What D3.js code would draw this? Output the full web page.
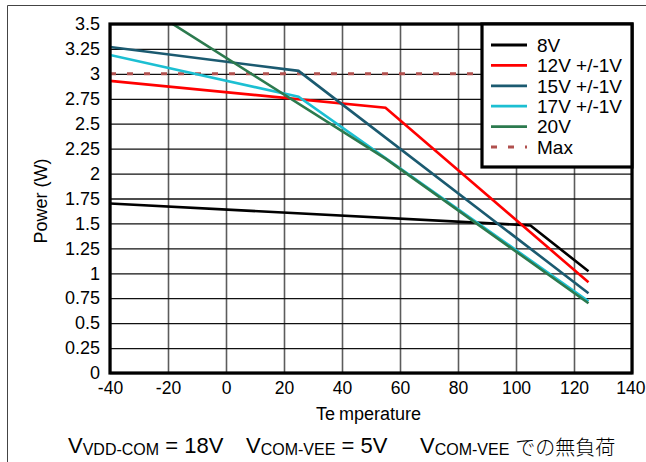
<!DOCTYPE html>
<html>
<head>
<meta charset="utf-8">
<script src="https://cdn.jsdelivr.net/npm/d3@7"></script>
<style>
  html, body { margin: 0; padding: 0; background: #fff; }
  svg { display: block; font-family: "Liberation Sans", Arial, sans-serif; }
</style>
</head>
<body>
<svg id="chart" width="646" height="462"></svg>
<script>
// Power dissipation vs. temperature, one series per supply voltage
const xTicks = [-40, -20, 0, 20, 40, 60, 80, 100, 120, 140];
const yTicks = [0, 0.25, 0.5, 0.75, 1, 1.25, 1.5, 1.75, 2, 2.25, 2.5, 2.75, 3, 3.25, 3.5];

const seriesNames = ["8V", "12V +/-1V", "15V +/-1V", "17V +/-1V", "20V"];
const seriesColors = ["#000000", "#ff0000", "#1b5a70", "#1cbfd2", "#2c7a4e"];

// temperature (°C) breakpoints and power (W) for each series
const temp8V  = [-40, 105, 125];
const power8V = [1.70, 1.48, 1.02];
const temp12V  = [-40, 55, 125];
const power12V = [2.93, 2.66, 0.91];
const temp15V  = [-40, 25, 125];
const power15V = [3.27, 3.03, 0.80];
const temp17V  = [-40, 25, 125];
const power17V = [3.19, 2.77, 0.72];
const temp20V  = [-20, 55, 125];
const power20V = [3.53, 2.15, 0.70];

const maxTemp  = [-40, 140];
const maxPower = [3, 3];

const seriesTemps  = [temp8V, temp12V, temp15V, temp17V, temp20V];
const seriesPowers = [power8V, power12V, power15V, power17V, power20V];

const svg = d3.select("#chart");
const L = 110, T = 24, R = 632, B = 373;

const x = d3.scaleLinear().domain([-40, 140]).range([L, R]);
const y = d3.scaleLinear().domain([0, 3.5]).range([B, T]);

// outer frame (top and left edges)
svg.append("path")
  .attr("d", `M7.5,462 V5.5 H646`)
  .attr("fill", "none").attr("stroke", "#444").attr("stroke-width", 1);

// grid: vertical lines gray, horizontal lines black
svg.append("g")
  .attr("transform", `translate(0,${B})`)
  .call(d3.axisBottom(x).tickValues(xTicks).tickSize(-(B - T)).tickFormat(""))
  .call(g => g.select(".domain").remove())
  .call(g => g.selectAll("line").attr("stroke", "#5c5c5c").attr("stroke-width", 1.6));

svg.append("g")
  .attr("transform", `translate(${L},0)`)
  .call(d3.axisLeft(y).tickValues(yTicks).tickSize(-(R - L)).tickFormat(""))
  .call(g => g.select(".domain").remove())
  .call(g => g.selectAll("line").attr("stroke", "#111").attr("stroke-width", 1.3));

// tick labels (plain hyphen for negatives)
const fmt = d => String(d);
svg.append("g")
  .attr("transform", `translate(${L},0)`)
  .call(d3.axisLeft(y).tickValues(yTicks).tickSize(0).tickPadding(10).tickFormat(fmt))
  .call(g => g.select(".domain").remove())
  .call(g => g.selectAll("text").attr("font-size", 18).attr("fill", "#000")
      .attr("font-family", "Liberation Sans, Arial, sans-serif"));

svg.append("g")
  .attr("transform", `translate(0,${B})`)
  .call(d3.axisBottom(x).tickValues(xTicks).tickSize(0).tickPadding(9).tickFormat(fmt))
  .call(g => g.select(".domain").remove())
  .call(g => g.selectAll("text").attr("font-size", 17.5).attr("fill", "#000")
      .attr("font-family", "Liberation Sans, Arial, sans-serif"))
  // keep the rightmost label inside the frame edge
  .call(g => g.selectAll(".tick").filter(d => d === 140).select("text")
      .attr("text-anchor", "end").attr("x", 13));

// clip for the series
svg.append("clipPath").attr("id", "plot-clip")
  .append("rect").attr("x", L).attr("y", T).attr("width", R - L).attr("height", B - T);

const line = d3.line().x(d => x(d[0])).y(d => y(d[1]));

// max power limit (dashed)
svg.append("path")
  .datum(maxTemp.map((t, i) => [t, maxPower[i]]))
  .attr("d", line)
  .attr("fill", "none").attr("stroke", "#b0504e")
  .attr("stroke-width", 3).attr("stroke-dasharray", "6,11");

const plot = svg.append("g").attr("clip-path", "url(#plot-clip)");
seriesNames.forEach((name, i) => {
  plot.append("path")
    .datum(seriesTemps[i].map((t, j) => [t, seriesPowers[i][j]]))
    .attr("d", line)
    .attr("fill", "none")
    .attr("stroke", seriesColors[i])
    .attr("stroke-width", 2.6)
    .attr("stroke-linejoin", "miter");
});

// plot frame
svg.append("rect")
  .attr("x", L).attr("y", T).attr("width", R - L).attr("height", B - T)
  .attr("fill", "none").attr("stroke", "#000").attr("stroke-width", 3.2);

// legend
const lg = svg.append("g");
lg.append("rect")
  .attr("x", 482).attr("y", T).attr("width", R - 482).attr("height", 143)
  .attr("fill", "#fff").attr("stroke", "#000").attr("stroke-width", 3.2);

const legendItems = seriesNames.map((n, i) => ({ name: n, color: seriesColors[i], dash: null }))
  .concat([{ name: "Max", color: "#b0504e", dash: "6,11" }]);
const rowY = d3.scalePoint().domain(d3.range(legendItems.length)).range([45, 147]);

legendItems.forEach((it, i) => {
  const yy = rowY(i);
  lg.append("line")
    .attr("x1", 491).attr("x2", 527).attr("y1", yy).attr("y2", yy)
    .attr("stroke", it.color).attr("stroke-width", it.dash ? 3 : 2.8)
    .attr("stroke-dasharray", it.dash);
  lg.append("text")
    .attr("x", 537).attr("y", yy).attr("dy", "0.36em")
    .attr("font-size", 19).attr("fill", "#000")
    .text(it.name);
});

// axis titles
svg.append("text")
  .attr("x", 316).attr("y", 420)
  .attr("font-size", 18)
  .call(t => { t.append("tspan").text("Te"); t.append("tspan").attr("dx", 4).text("mperature"); });

svg.append("text")
  .attr("transform", `translate(47,201) rotate(-90)`)
  .attr("text-anchor", "middle")
  .attr("font-size", 18)
  .text("Power (W)");

// test conditions caption
function cond(xPos, sub, rest, jp) {
  const t = svg.append("text").attr("x", xPos).attr("y", 453).attr("font-size", 22);
  t.append("tspan").text("V");
  t.append("tspan").attr("font-size", 16).attr("dy", 2).text(sub);
  t.append("tspan").attr("dy", -2).text(rest);
  if (jp) {
    t.append("tspan").attr("dx", 6)
      .attr("font-family", "Noto Sans CJK JP, sans-serif")
      .attr("font-size", 20).attr("font-weight", 300)
      .text(jp);
  }
}
cond(68, "VDD-COM", " = 18V");
cond(246, "COM-VEE", " = 5V");
cond(420, "COM-VEE", "", "での無負荷");
</script>
</body>
</html>
